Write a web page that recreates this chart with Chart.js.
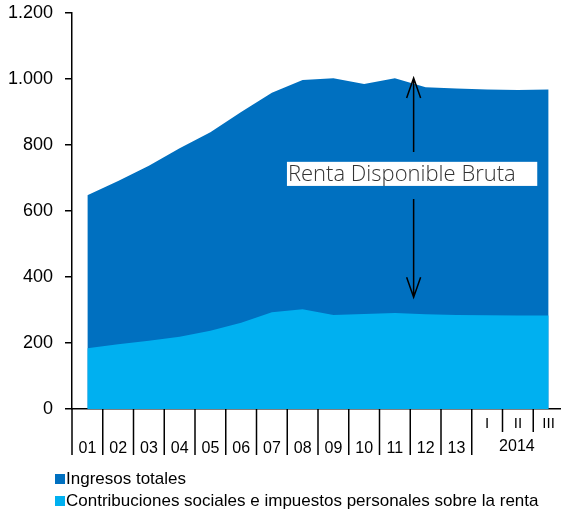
<!DOCTYPE html>
<html>
<head>
<meta charset="utf-8">
<script src="https://cdn.jsdelivr.net/npm/chart.js@4/dist/chart.umd.min.js"></script>
<style>
  html, body { margin: 0; padding: 0; background: #fff; width: 561px; height: 512px; overflow: hidden; }
  #wrap { position: relative; width: 561px; height: 512px; overflow: hidden; }
  canvas { position: absolute; left: 0; top: 0; }
  .leg { position: absolute; left: 55px; font-family: "Liberation Sans", Arial, sans-serif; font-size: 17px; color: #000; white-space: nowrap; line-height: 17px; }
  .leg span.box { display: inline-block; width: 10px; height: 10px; margin-right: 1px; vertical-align: 0px; }
</style>
</head>
<body>
<div id="wrap">
  <canvas id="c" width="565" height="512"></canvas>
  <div id="legend"></div>
</div>
<script>
// ---- data ----
const categories = ['01','02','03','04','05','06','07','08','09','10','11','12','13','I','II','III'];
const quarterLabels = ['I','II','III'];
const yearLabel2014 = '2014';
const ingresosTotales = [648, 691, 737, 790, 839, 900, 958, 997, 1002, 985, 1002, 975, 971, 968, 967, 968];
const contribuciones = [184, 196, 207, 219, 237, 261, 293, 302, 285, 288, 291, 287, 285, 284, 283, 283];
const seriesNames = ['Ingresos totales', 'Contribuciones sociales e impuestos personales sobre la renta'];
const seriesColors = ['#0070C0', '#00B0F0'];
const annotationText = 'Renta Disponible Bruta';
const yTicks = [0, 200, 400, 600, 800, 1000, 1200];

const fmt = v => v.toString().replace(/\B(?=(\d{3})+(?!\d))/g, '.');

// custom plugin: category separators, "2014" label, annotation with arrows
const extras = {
  id: 'extras',
  afterDraw(chart) {
    const ctx = chart.ctx;
    const x = chart.scales.x, y = chart.scales.y;
    const area = chart.chartArea;
    const half = (x.getPixelForValue(1) - x.getPixelForValue(0)) / 2;
    ctx.save();
    ctx.strokeStyle = '#000';
    ctx.lineWidth = 1.5;
    // separators
    for (let i = 0; i <= categories.length; i++) {
      const px = x.getPixelForValue(i) - half;
      const isQuarterInner = quarterLabels.indexOf(categories[i]) > 0;
      const len = isQuarterInner ? 23 : 46;
      ctx.beginPath();
      ctx.moveTo(px, area.bottom);
      ctx.lineTo(px, area.bottom + len);
      ctx.stroke();
    }
    // 2014 label under the quarters
    ctx.fillStyle = '#000';
    ctx.font = '16px "Liberation Sans", Arial, sans-serif';
    ctx.textAlign = 'center';
    ctx.textBaseline = 'middle';
    ctx.fillText(yearLabel2014, x.getPixelForValue(categories.indexOf('II')) - 1, area.bottom + 38);

    // annotation box
    const bx0 = x.getPixelForValue(6.49), bx1 = x.getPixelForValue(14.63);
    const by0 = y.getPixelForValue(749), by1 = y.getPixelForValue(676);
    ctx.fillStyle = '#fff';
    ctx.fillRect(bx0, by0, bx1 - bx0, by1 - by0);
    ctx.fillStyle = '#333';
    ctx.font = '300 22px "Open Sans", "Noto Sans", sans-serif';
    ctx.textAlign = 'left';
    ctx.textBaseline = 'middle';
    ctx.fillText(annotationText, bx0 + 1, (by0 + by1) / 2 + 1);

    // arrows
    const ax = x.getPixelForValue(10.61);
    const upTip = y.getPixelForValue(1003), upEnd = y.getPixelForValue(779);
    const dnStart = y.getPixelForValue(636), dnTip = y.getPixelForValue(339);
    ctx.strokeStyle = '#000';
    ctx.lineWidth = 1.5;
    ctx.beginPath();
    ctx.moveTo(ax, upEnd); ctx.lineTo(ax, upTip);
    ctx.moveTo(ax - 7, upTip + 20); ctx.lineTo(ax, upTip); ctx.lineTo(ax + 7, upTip + 20);
    ctx.moveTo(ax, dnStart); ctx.lineTo(ax, dnTip);
    ctx.moveTo(ax - 7, dnTip - 20); ctx.lineTo(ax, dnTip); ctx.lineTo(ax + 7, dnTip - 20);
    ctx.stroke();
    ctx.restore();
  }
};

new Chart(document.getElementById('c'), {
  type: 'line',
  data: {
    labels: categories.map(c => quarterLabels.includes(c) ? [c, ''] : ['', c]),
    datasets: [
      { label: seriesNames[1], data: contribuciones, backgroundColor: seriesColors[1], borderColor: seriesColors[1],
        borderWidth: 0, pointRadius: 0, fill: 'origin', tension: 0 },
      { label: seriesNames[0], data: ingresosTotales, backgroundColor: seriesColors[0], borderColor: seriesColors[0],
        borderWidth: 0, pointRadius: 0, fill: 'origin', tension: 0 }
    ]
  },
  options: {
    responsive: false,
    devicePixelRatio: 1,
    animation: false,
    layout: { padding: { top: 13, right: 1, bottom: 53, left: 0 } },
    plugins: { legend: { display: false }, tooltip: { enabled: false } },
    scales: {
      x: {
        offset: true,
        grid: { display: false },
        border: { display: true, color: '#000', width: 1.5 },
        ticks: {
          color: '#000',
          autoSkip: false,
          maxRotation: 0,
          padding: -6,
          font: (ctx) => {
            const lab = categories[ctx.index];
            return quarterLabels.includes(lab)
              ? { family: '"Liberation Sans", Arial, sans-serif', size: 15, lineHeight: '25px' }
              : { family: '"Liberation Sans", Arial, sans-serif', size: 16, lineHeight: '25px' };
          }
        },
        afterFit: s => { s.height = 50; s.paddingLeft = 0; s.paddingRight = 0; }
      },
      y: {
        min: 0, max: 1200,
        afterBuildTicks: s => { s.ticks = yTicks.map(v => ({ value: v })); },
        grid: { drawOnChartArea: false, drawTicks: true, tickLength: 7, color: '#000', lineWidth: 1.5 },
        border: { display: true, color: '#000', width: 1.5 },
        ticks: {
          color: '#000', padding: 12,
          font: { family: '"Liberation Sans", Arial, sans-serif', size: 18 },
          callback: v => fmt(v)
        },
        afterFit: s => { s.width = 72; s.paddingTop = 0; s.paddingBottom = 0; }
      }
    }
  },
  plugins: [extras]
});

// legend (HTML)
const legend = document.getElementById('legend');
const legendTops = [470, 492];
seriesNames.forEach((name, i) => {
  const d = document.createElement('div');
  d.className = 'leg';
  d.style.top = legendTops[i] + 'px';
  const b = document.createElement('span');
  b.className = 'box';
  b.style.background = seriesColors[i];
  d.appendChild(b);
  d.appendChild(document.createTextNode(name));
  legend.appendChild(d);
});
</script>
</body>
</html>
